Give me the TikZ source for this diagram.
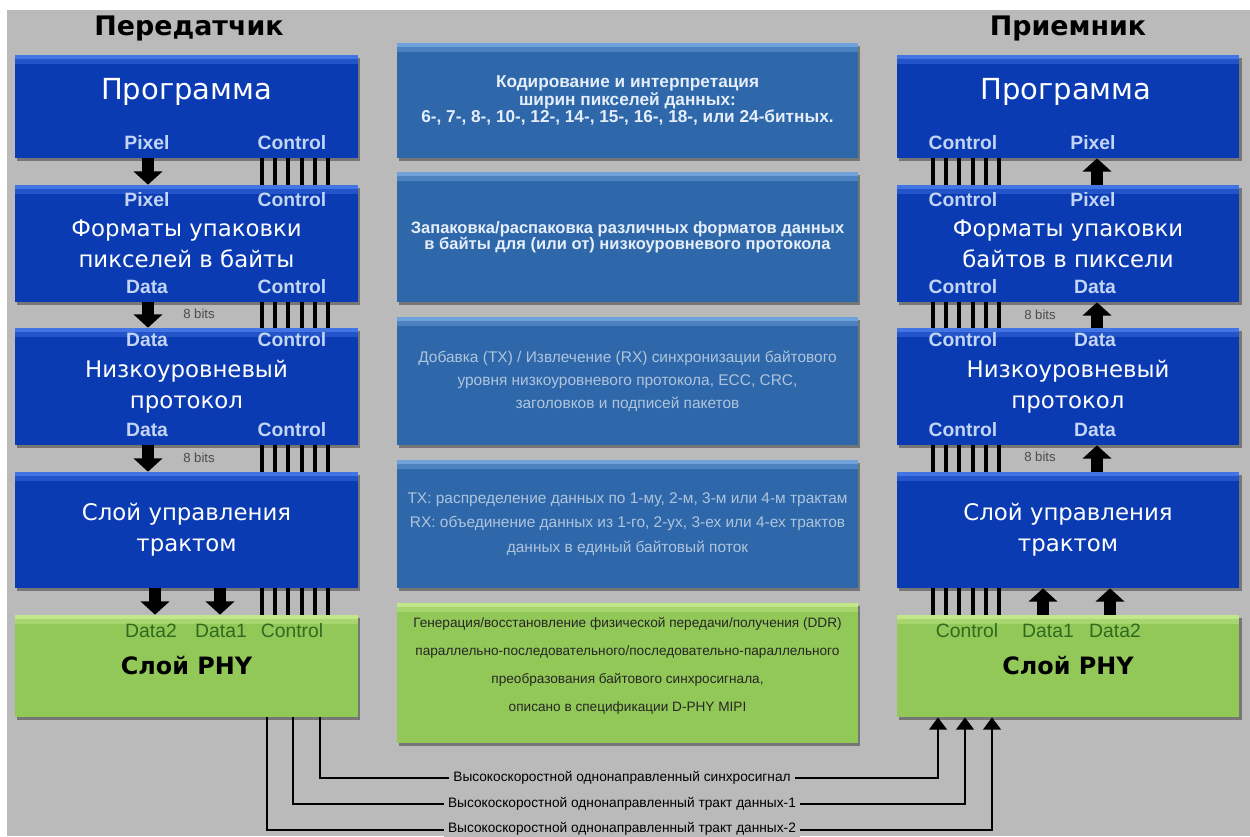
\documentclass[tikz,border=0pt]{standalone}
\usepackage{fontspec}
\setmainfont{DejaVu Sans}
\newfontfamily\arialf{Liberation Sans}
\usepackage{tikz}
\usetikzlibrary{arrows.meta,calc,shadows}
\definecolor{bgray}{HTML}{BABABA}
\definecolor{layer}{HTML}{0B3BB3}
\definecolor{layerhi}{HTML}{4274E4}
\definecolor{descr}{HTML}{2E68AA}
\definecolor{descrhi}{HTML}{6FA2DA}
\definecolor{phy}{HTML}{92C857}
\definecolor{phyhi}{HTML}{C2E78A}
\definecolor{phytxt}{HTML}{2F6B1F}
\definecolor{pintxt}{HTML}{C3D5F5}
\definecolor{brighttxt}{HTML}{E6EEFA}
\definecolor{softtxt}{HTML}{AFC4DC}
\tikzset{
  shd/.style={drop shadow={shadow xshift=1.2pt, shadow yshift=-1.8pt,
                 opacity=.5, fill=black!80}},
  % lighter strip along the top edge of every block
  topband/.style={path picture={
      \fill[#1] (path picture bounding box.north west) rectangle
                ([yshift=-2.5pt]path picture bounding box.north east);
      \fill[#1,opacity=.45] ([yshift=-2.5pt]path picture bounding box.north west) rectangle
                ([yshift=-5pt]path picture bounding box.north east);}},
  layerbox/.style={rectangle, inner sep=0pt, shd, fill=layer, topband=layerhi,
                 minimum width=6.86cm, text=white, align=center,
                 font=\fontsize{13}{17.6}\selectfont},
  descbox/.style ={rectangle, inner sep=0pt, shd, fill=descr, topband=descrhi,
                 minimum width=9.22cm, align=center},
  phybox/.style  ={rectangle, inner sep=0pt, shd, fill=phy, topband=phyhi,
                 minimum width=6.86cm, font=\bfseries\fontsize{13.6}{16}\selectfont},
  apptxt/.style  ={text=white, font=\fontsize{16.5}{18}\selectfont},
  side/.style    ={font=\bfseries\fontsize{15.3}{18}\selectfont},
  pin/.style     ={inner sep=0pt, text=pintxt, font=\arialf\bfseries\fontsize{11}{12}\selectfont},
  phypin/.style  ={inner sep=0pt, text=phytxt, font=\arialf\fontsize{11}{12}\selectfont},
  bits/.style    ={inner sep=0pt, text=black!70, font=\arialf\fontsize{7.5}{8}\selectfont},
  bus/.style     ={draw=black, line width=1.9pt},
  fat/.style     ={draw=black, line width=7.2pt, -{Triangle[length=7.5pt,width=16pt]}},
  wire/.style    ={draw=black, line width=1.4pt, -{Triangle[length=7pt,width=10pt]}},
  wirelbl/.style ={fill=bgray, inner sep=2.5pt, font=\arialf\fontsize{7.8}{9}\selectfont},
}

\begin{document}
\begin{tikzpicture}[x=0.02cm,y=-0.02cm]
\useasboundingbox (0,0) rectangle (1250,836);
\fill[white] (0,0) rectangle (1250,836);
\fill[bgray] (7,10) rectangle (1250,836);

\node[side] at (189,28)  {Передатчик};
\node[side] at (1068,28) {Приемник};

% transmitter stack
\node[layerbox, minimum height=2.06cm] (tp) at (186.5,106.5) {};
\node[layerbox, minimum height=2.34cm] (tf) at (186.5,243.5) {Форматы упаковки\\пикселей в байты};
\node[layerbox, minimum height=2.34cm] (tl) at (186.5,386.5) {Низкоуровневый\\протокол};
\node[layerbox, minimum height=2.32cm] (tc) at (186.5,530)   {Слой управления\\трактом};
\node[phybox,   minimum height=2.04cm] (tphy) at (186.5,666) {Слой PHY};
\node[apptxt] at (186.5,92) {Программа};

% receiver stack
\node[layerbox, minimum height=2.06cm] (rp) at (1068,106.5) {};
\node[layerbox, minimum height=2.34cm] (rf) at (1068,243.5) {Форматы упаковки\\байтов в пиксели};
\node[layerbox, minimum height=2.34cm] (rl) at (1068,386.5) {Низкоуровневый\\протокол};
\node[layerbox, minimum height=2.32cm] (rc) at (1068,530)   {Слой управления\\трактом};
\node[phybox,   minimum height=2.04cm] (rphy) at (1068,666) {Слой PHY};
\node[apptxt] at (1066,92) {Программа};

% descriptions
\node[descbox, minimum height=2.3cm, text=brighttxt,
      font=\arialf\bfseries\fontsize{9.8}{10}\selectfont] (m1) at (627.5,100.5)
  {Кодирование и интерпретация\\ширин пикселей данных:\\6-, 7-, 8-, 10-, 12-, 14-, 15-, 16-, 18-, или 24-битных.};
\node[descbox, minimum height=2.6cm, text=brighttxt,
      font=\arialf\bfseries\fontsize{9.4}{9.1}\selectfont] (m2) at (627.5,237)
  {Запаковка/распаковка различных форматов данных\\в байты для (или от) низкоуровневого протокола};
\node[descbox, minimum height=2.56cm, text=softtxt,
      font=\arialf\fontsize{8.8}{13}\selectfont] (m3) at (627.5,381)
  {Добавка (TX) / Извлечение (RX) синхронизации байтового\\уровня низкоуровневого протокола, ECC, CRC,\\заголовков и подписей пакетов};
\node[descbox, minimum height=2.56cm, text=softtxt,
      font=\arialf\fontsize{8.8}{14}\selectfont] (m4) at (627.5,524)
  {TX: распределение данных по 1-му, 2-м, 3-м или 4-м трактам\\RX: объединение данных из 1-го, 2-ух, 3-ех или 4-ех трактов\\данных в единый байтовый поток};
\node[descbox, minimum height=2.8cm, fill=phy, topband=phyhi] (m5) at (627.5,673) {};
\node[align=center, text=black!85, font=\arialf\fontsize{7.75}{15.9}\selectfont]
  at (627.5,666)
  {Генерация/восстановление физической передачи/получения (DDR)\\параллельно-последовательного/последовательно-параллельного\\преобразования байтового синхросигнала,\\описано в спецификации D-PHY MIPI};

% port names on the blocks
\foreach \t/\x/\y in {Pixel/147/143, Control/292/143, Pixel/147/200, Control/292/200,
   Data/147/287, Control/292/287, Data/147/340, Control/292/340, Data/147/430, Control/292/430,
   Control/963/143, Pixel/1093/143, Control/963/200, Pixel/1093/200, Control/963/287,
   Data/1095/287, Control/963/340, Data/1095/340, Control/963/430, Data/1095/430}
  {\node[pin] at (\x,\y) {\t};}
\foreach \t/\x in {Data2/151, Data1/221, Control/292, Control/967, Data1/1048, Data2/1115}
  {\node[phypin] at (\x,631) {\t};}
\foreach \x/\y in {199/314, 199/458, 1040/315, 1040/457}
  {\node[bits] at (\x,\y) {8 bits};}

% control buses
\foreach \a/\b in {tp/tf, tf/tl, tl/tc, tc/tphy}
  \foreach \x in {262,275,288,302,315,328}
    {\draw[bus] (\a.south -| \x,0) -- (\b.north -| \x,0);}
\foreach \a/\b in {rp/rf, rf/rl, rl/rc, rc/rphy}
  \foreach \x in {933,946,959,973,986,999}
    {\draw[bus] (\a.south -| \x,0) -- (\b.north -| \x,0);}

% data flow
\foreach \a/\b/\x in {tp/tf/148, tf/tl/148, tl/tc/148, tc/tphy/155, tc/tphy/220}
  {\draw[fat] (\a.south -| \x,0) -- (\b.north -| \x,0);}
\foreach \a/\b/\x in {rf/rp/1097, rl/rf/1097, rc/rl/1097, rphy/rc/1043, rphy/rc/1110}
  {\draw[fat] (\a.north -| \x,0) -- (\b.south -| \x,0);}

% high-speed lanes
\draw[wire] (tphy.south -| 320,0) |- (629,778) -| (rphy.south -| 938,0);
\draw[wire] (tphy.south -| 293,0) |- (629,804) -| (rphy.south -| 965,0);
\draw[wire] (tphy.south -| 267,0) |- (629,830) -| (rphy.south -| 992,0);
\node[wirelbl] at (622,778) {Высокоскоростной однонаправленный синхросигнал};
\node[wirelbl] at (622,804) {Высокоскоростной однонаправленный тракт данных-1};
\node[wirelbl] at (622,829) {Высокоскоростной однонаправленный тракт данных-2};
\end{tikzpicture}
\end{document}
